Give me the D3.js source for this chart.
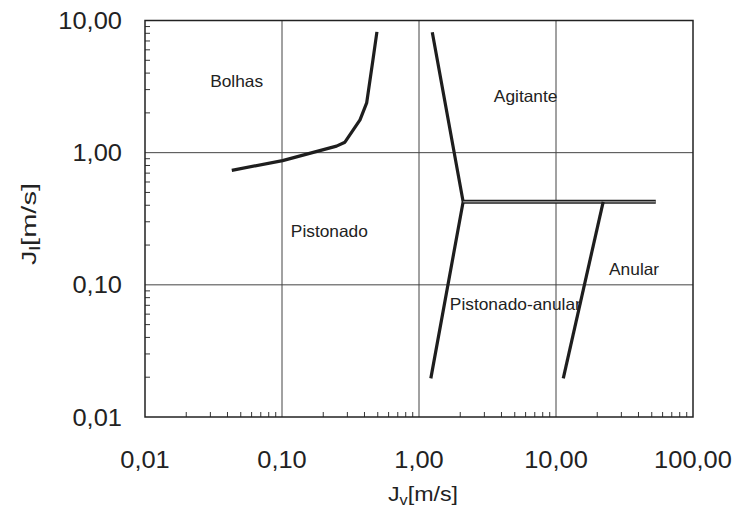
<!DOCTYPE html>
<html lang="pt">
<head>
<meta charset="utf-8">
<title>Mapa de padrões de escoamento</title>
<script src="https://d3js.org/d3.v7.min.js"></script>
<style>
  body { margin: 0; background: #fff; font-family: "Liberation Sans", Arial, sans-serif; }
  text { fill: #222; }
  .tick-label { font-size: 24px; }
  .region { font-size: 16.5px; }
  .title { font-size: 20px; }
</style>
</head>
<body>
<svg id="chart" width="737" height="508"></svg>
<script>
// ---- data ----
var xTicks = [0.01, 0.1, 1, 10, 100];
var yTicks = [0.01, 0.1, 1, 10];

// Bolhas / Pistonado boundary
var bolhasX = [0.043, 0.101, 0.25, 0.288, 0.371, 0.415, 0.461, 0.493];
var bolhasY = [0.735, 0.87, 1.12, 1.2, 1.77, 2.38, 5.03, 8.2];

// Pistonado / Agitante / Pistonado-anular boundary
var leftX = [1.25, 2.1, 1.22];
var leftY = [8.15, 0.425, 0.0196];

// horizontal boundary
var horizX = [2.1, 53.5];
var horizY = [0.425, 0.425];

// Pistonado-anular / Anular boundary
var anularX = [22.1, 11.3];
var anularY = [0.425, 0.0196];

var regionNames = ['Bolhas', 'Agitante', 'Pistonado', 'Anular', 'Pistonado-anular'];
var regionX = [0.0299, 3.52, 0.116, 24.4, 1.68];
var regionY = [3.15, 2.43, 0.232, 0.1186, 0.0642];

// ---- layout ----
var margin = { left: 145, top: 20.5, right: 44, bottom: 91 };
var W = 737, H = 508;

var x = d3.scaleLog().domain([0.01, 100]).range([margin.left, W - margin.right]);
var y = d3.scaleLog().domain([0.01, 10]).range([H - margin.bottom, margin.top]);

var svg = d3.select('#chart');
var fmt = function(d) { return d.toFixed(2).replace('.', ','); };

// the scanned original is a bit wider than tall: stretch text horizontally
function widen(sel, k) {
  sel.each(function() {
    var w = this.getComputedTextLength();
    this.setAttribute('textLength', w * k);
    this.setAttribute('lengthAdjust', 'spacingAndGlyphs');
  });
}

// grid lines at decades
svg.append('g')
  .selectAll('line')
  .data(xTicks.slice(1, -1))
  .enter()
  .append('line')
  .attr('x1', function(d) { return x(d); })
  .attr('x2', function(d) { return x(d); })
  .attr('y1', y(10))
  .attr('y2', y(0.01))
  .attr('stroke', '#444')
  .attr('stroke-width', 1);

svg.append('g')
  .selectAll('line')
  .data(yTicks.slice(1, -1))
  .enter()
  .append('line')
  .attr('x1', x(0.01))
  .attr('x2', x(100))
  .attr('y1', function(d) { return y(d); })
  .attr('y2', function(d) { return y(d); })
  .attr('stroke', '#444')
  .attr('stroke-width', 1);

// minor ticks, pointing inward
var minorX = [];
xTicks.slice(0, -1).forEach(function(d) {
  for (var k = 2; k <= 9; k++) minorX.push(d * k);
});
var minorY = [];
yTicks.slice(0, -1).forEach(function(d) {
  for (var k = 2; k <= 9; k++) minorY.push(d * k);
});

svg.append('g')
  .selectAll('line')
  .data(minorX)
  .enter()
  .append('line')
  .attr('x1', function(d) { return x(d); })
  .attr('x2', function(d) { return x(d); })
  .attr('y1', y(0.01))
  .attr('y2', y(0.01) - 5)
  .attr('stroke', '#333')
  .attr('stroke-width', 1);

svg.append('g')
  .selectAll('line')
  .data(minorY)
  .enter()
  .append('line')
  .attr('x1', x(0.01))
  .attr('x2', x(0.01) + 5)
  .attr('y1', function(d) { return y(d); })
  .attr('y2', function(d) { return y(d); })
  .attr('stroke', '#333')
  .attr('stroke-width', 1);

// frame
svg.append('rect')
  .attr('x', x(0.01))
  .attr('y', y(10))
  .attr('width', x(100) - x(0.01))
  .attr('height', y(0.01) - y(10))
  .attr('fill', 'none')
  .attr('stroke', '#222')
  .attr('stroke-width', 1.5);

// tick labels
svg.append('g')
  .selectAll('text')
  .data(xTicks)
  .enter()
  .append('text')
  .attr('class', 'tick-label')
  .attr('x', function(d) { return x(d); })
  .attr('y', 468)
  .attr('text-anchor', 'middle')
  .text(fmt)
  .call(widen, 1.06);

svg.append('g')
  .selectAll('text')
  .data(yTicks)
  .enter()
  .append('text')
  .attr('class', 'tick-label')
  .attr('x', 122)
  .attr('y', function(d) { return y(d); })
  .attr('dy', '0.36em')
  .attr('text-anchor', 'end')
  .text(fmt)
  .call(widen, 1.06);

// axis titles
var xt = svg.append('text')
  .attr('class', 'title')
  .attr('x', 423)
  .attr('y', 501)
  .attr('text-anchor', 'middle');
xt.append('tspan').text('J');
xt.append('tspan').attr('font-size', 14).attr('dy', 4).text('v');
xt.append('tspan').attr('dy', -4).text('[m/s]');
xt.attr('textLength', 70).attr('lengthAdjust', 'spacingAndGlyphs');

var yt = svg.append('text')
  .attr('class', 'title')
  .attr('transform', 'translate(36,224) rotate(-90)')
  .attr('text-anchor', 'middle');
yt.append('tspan').text('J');
yt.append('tspan').attr('font-size', 14).attr('dy', 4).text('l');
yt.append('tspan').attr('dy', -4).text('[m/s]');
yt.attr('textLength', 82).attr('lengthAdjust', 'spacingAndGlyphs');

// boundary curves
var line = d3.line()
  .x(function(d) { return x(d[0]); })
  .y(function(d) { return y(d[1]); });

function drawCurve(xs, ys, grey) {
  var pts = d3.zip(xs, ys);
  svg.append('path')
    .datum(pts)
    .attr('d', line)
    .attr('fill', 'none')
    .attr('stroke', '#1e1e1e')
    .attr('stroke-width', grey ? 4 : 3.2)
    .attr('stroke-linejoin', 'round');
  if (grey) {
    svg.append('path')
      .datum(pts)
      .attr('d', line)
      .attr('fill', 'none')
      .attr('stroke', '#8a8a8a')
      .attr('stroke-width', 1.4);
  }
}

drawCurve(bolhasX, bolhasY, false);
drawCurve(leftX, leftY, false);
drawCurve(horizX, horizY, true);
drawCurve(anularX, anularY, false);

// region labels
svg.append('g')
  .selectAll('text')
  .data(regionNames)
  .enter()
  .append('text')
  .attr('class', 'region')
  .attr('x', function(d, i) { return x(regionX[i]); })
  .attr('y', function(d, i) { return y(regionY[i]); })
  .text(function(d) { return d; })
  .call(widen, 1.05);
</script>
</body>
</html>
